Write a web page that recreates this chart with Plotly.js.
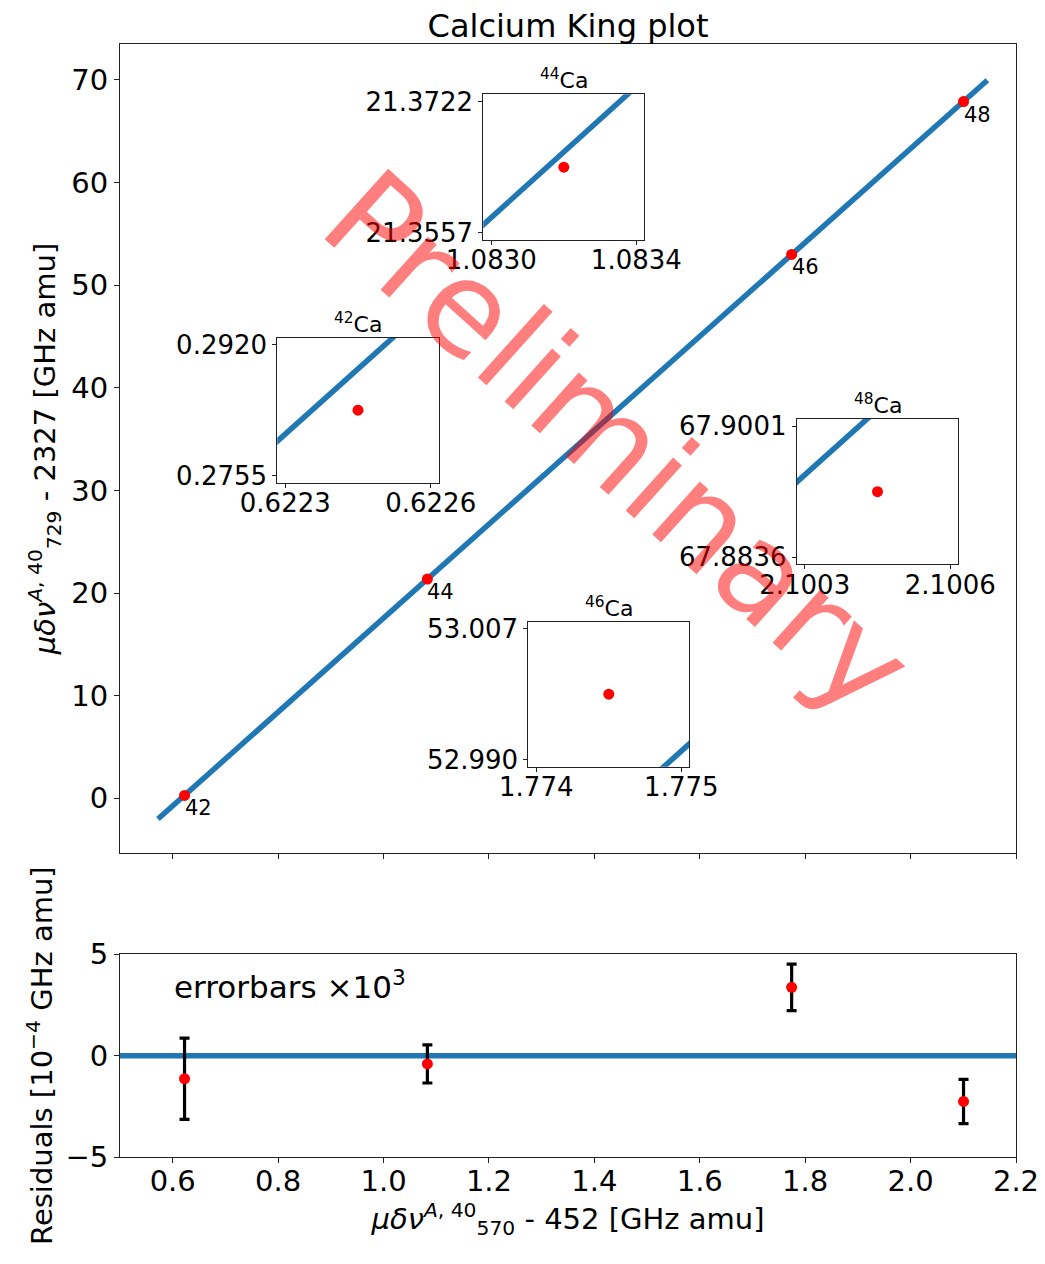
<!DOCTYPE html>
<html><head><meta charset="utf-8">
<script src="https://cdn.plot.ly/plotly-3.0.1.min.js"></script>
<style>body{margin:0;background:#fff}</style>
</head><body><div id="chart" style="width:1045px;height:1264px"></div>
<script>
// ---- data ----
const isotopes = ['42', '44', '46', '48'];
const xVals = [0.62245, 1.083183, 1.774324, 2.10045];
const yVals = [0.28375, 21.36395, 52.9985, 67.89185];
const residuals = [-1.14, -0.41, 3.37, -2.26];
const residualErr = [2.0, 0.94, 1.15, 1.09];
const fitIntercept = -28.1859;
const fitSlope = 45.74643;
const fitXRange = [0.572, 2.1456];
const mainYTicks = [0, 10, 20, 30, 40, 50, 60, 70];
const xTicks = [0.6, 0.8, 1.0, 1.2, 1.4, 1.6, 1.8, 2.0, 2.2];
const resYTicks = [-5, 0, 5];
const insetXTickText = [['0.6223', '0.6226'], ['1.0830', '1.0834'], ['1.774', '1.775'], ['2.1003', '2.1006']];
const insetYTickText = [['0.2755', '0.2920'], ['21.3557', '21.3722'], ['52.990', '53.007'], ['67.8836', '67.9001']];

// ---- layout helpers ----
const W = 1045, H = 1264;
const PL = 120, PR = 1016, PT = 44, PB = 1157;
const fx = p => (p - PL) / (PR - PL);
const fy = p => (PB - p) / (PB - PT);
const FONT = 'DejaVu Sans';
const BLUE = '#1f77b4';
const fit = x => fitIntercept + fitSlope * x;
const DX = 0.00018, DY = 0.00825, PAD = 1.11;
// inset boxes in page px: [left, right, top, bottom]
const insetBoxes = [[277.3, 438.7, 337.7, 482.7], [483.3, 644.3, 94.3, 240], [528.3, 689.3, 621.7, 766.7], [796.7, 958.3, 419, 564.3]];

const axBase = {
  showline: true, linecolor: '#222', linewidth: 1, mirror: true,
  ticks: 'outside', ticklen: 5, tickwidth: 1, tickcolor: '#222',
  showgrid: false, zeroline: false, tickfont: {family: FONT, size: 29, color: '#000'}
};

const traces = [];
// main fit line
traces.push({x: fitXRange, y: fitXRange.map(fit), mode: 'lines', line: {color: BLUE, width: 5.5}, xaxis: 'x', yaxis: 'y', hoverinfo: 'skip'});
traces.push({x: xVals, y: yVals, mode: 'markers', marker: {color: 'red', size: 11}, xaxis: 'x', yaxis: 'y'});
// residuals
traces.push({x: [0.5, 2.2], y: [0, 0], mode: 'lines', line: {color: BLUE, width: 5.5}, xaxis: 'x2', yaxis: 'y2'});
traces.push({x: xVals, y: residuals, mode: 'markers', marker: {color: 'red', size: 11},
  error_y: {type: 'data', array: residualErr, color: '#000', thickness: 3.2, width: 5}, xaxis: 'x2', yaxis: 'y2'});

const layout = {
  width: W, height: H, showlegend: false,
  paper_bgcolor: '#fff', plot_bgcolor: 'rgba(0,0,0,0)',
  margin: {l: PL, r: W - PR, t: PT, b: H - PB},
  font: {family: FONT, color: '#000'},
  title: {text: 'Calcium King plot', font: {family: FONT, size: 32}, x: fx(568), xref: 'paper', y: 1 - 26 / H, yref: 'container', yanchor: 'middle'},
  xaxis: Object.assign({}, axBase, {domain: [0, 1], range: [0.5, 2.2], tickvals: xTicks, showticklabels: false, anchor: 'y'}),
  yaxis: Object.assign({}, axBase, {domain: [fy(853), 1], range: [-5.33, 73.5], tickvals: mainYTicks, anchor: 'x',
    title: {text: '<i>μδν</i><sup><i>A</i>, 40</sup><sub>729</sub> - 2327 [GHz amu]', font: {family: FONT, size: 29}, standoff: 7}}),
  xaxis2: Object.assign({}, axBase, {domain: [0, 1], range: [0.5, 2.2], tickvals: xTicks, tickformat: '.1f', anchor: 'y2', ticklabelstandoff: -7,
    title: {text: '<i>μδν</i><sup><i>A</i>, 40</sup><sub>570</sub> - 452 [GHz amu]', font: {family: FONT, size: 29}, standoff: 4}}),
  yaxis2: Object.assign({}, axBase, {domain: [0, fy(954.3)], range: [-5, 5], tickvals: resYTicks, anchor: 'x2',
    title: {text: 'Residuals [10<sup>−4</sup> GHz amu]', font: {family: FONT, size: 29}, standoff: 4}}),
  annotations: [], shapes: []
};

// point labels
isotopes.forEach((iso, i) => {
  layout.annotations.push({x: xVals[i], y: yVals[i], xref: 'x', yref: 'y', text: iso, showarrow: false,
    xanchor: 'left', yanchor: 'top', xshift: -2, yshift: 1, font: {family: FONT, size: 21, color: '#000'}});
});
layout.annotations.push({x: fx(172), y: fy(985), xref: 'paper', yref: 'paper', text: 'errorbars ×10<sup>3</sup>', showarrow: false,
  xanchor: 'left', yanchor: 'middle', font: {family: FONT, size: 31, color: '#000'}});

// insets
insetBoxes.forEach((b, i) => {
  const n = i + 3;
  const xa = 'xaxis' + n, ya = 'yaxis' + n;
  const px = xVals[i], py = yVals[i];
  layout[xa] = Object.assign({}, axBase, {domain: [fx(b[0]), fx(b[1])], range: [px - PAD * DX, px + PAD * DX], anchor: 'y' + n,
    tickvals: [px - DX, px + DX], ticktext: insetXTickText[i], ticklen: 4, ticklabelstandoff: -7, tickfont: {family: FONT, size: 26, color: '#000'}});
  layout[ya] = Object.assign({}, axBase, {domain: [fy(b[3]), fy(b[2])], range: [py - PAD * DY, py + PAD * DY], anchor: 'x' + n,
    tickvals: [py - DY, py + DY], ticktext: insetYTickText[i], ticklen: 4, tickfont: {family: FONT, size: 26, color: '#000'}});
  const lx = [px - 3 * DX, px + 3 * DX];
  traces.push({x: lx, y: lx.map(fit), mode: 'lines', line: {color: BLUE, width: 5.5}, xaxis: 'x' + n, yaxis: 'y' + n, hoverinfo: 'skip'});
  traces.push({x: [px], y: [py], mode: 'markers', marker: {color: 'red', size: 11}, xaxis: 'x' + n, yaxis: 'y' + n});
  layout.annotations.push({x: fx((b[0] + b[1]) / 2), y: fy(b[2]), xref: 'paper', yref: 'paper', text: '<sup>' + isotopes[i] + '</sup>Ca',
    showarrow: false, xanchor: 'center', yanchor: 'bottom', yshift: -1, font: {family: FONT, size: 22, color: '#000'}});
});

// watermark
layout.annotations.push({x: fx(618), y: fy(443), xref: 'paper', yref: 'paper', text: 'Preliminary', showarrow: false,
  textangle: 42, xanchor: 'center', yanchor: 'middle', font: {family: FONT, size: 130, color: 'rgba(255,0,0,0.5)'}});

Plotly.newPlot('chart', traces, layout, {staticPlot: true});
</script></body></html>
